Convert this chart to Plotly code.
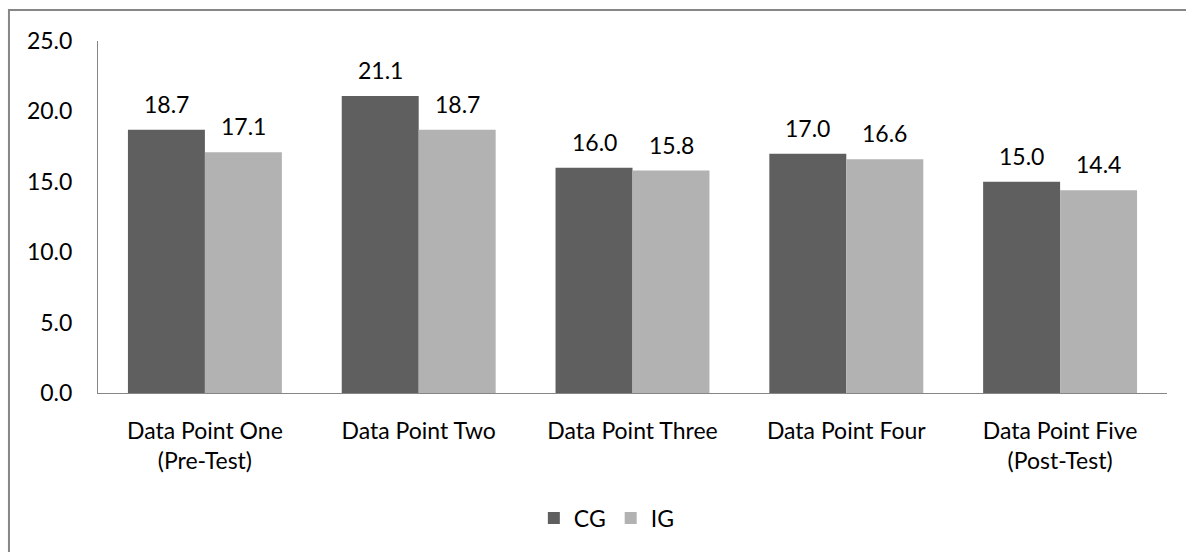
import plotly.graph_objects as go

categories = ["Data Point One<br>(Pre-Test)", "Data Point Two", "Data Point Three", "Data Point Four", "Data Point Five<br>(Post-Test)"]
cg_values = [18.7, 21.1, 16.0, 17.0, 15.0]
ig_values = [17.1, 18.7, 15.8, 16.6, 14.4]
y_ticks = [0, 5, 10, 15, 20, 25]

FONT = "Lato"
FS = 23
DARK = "#5f5f5f"
LIGHT = "#b2b2b2"
AXIS = "#868686"

fig = go.Figure()
fig.add_trace(go.Bar(name="CG", x=categories, y=cg_values, marker=dict(color=DARK, line=dict(width=0))))
fig.add_trace(go.Bar(name="IG", x=categories, y=ig_values, marker=dict(color=LIGHT, line=dict(width=0))))

bar_half = 38.5
annotations = []
for c, v in zip(categories, cg_values):
    annotations.append(dict(x=c, y=v, xref="x", yref="y", text=f"{v:.1f}", showarrow=False,
                            xshift=-bar_half, yshift=26, yanchor="middle",
                            font=dict(family=FONT, size=FS, color="#000")))
for c, v in zip(categories, ig_values):
    annotations.append(dict(x=c, y=v, xref="x", yref="y", text=f"{v:.1f}", showarrow=False,
                            xshift=bar_half, yshift=26, yanchor="middle",
                            font=dict(family=FONT, size=FS, color="#000")))

fig.update_layout(
    width=1186, height=552,
    margin=dict(l=98, r=19, t=41, b=159),
    paper_bgcolor="white", plot_bgcolor="white",
    barmode="group", bargap=0.28, bargroupgap=0,
    font=dict(family=FONT, size=FS, color="#000"),
    showlegend=True,
    legend=dict(orientation="h", x=0.476, xanchor="center", y=-0.355, yanchor="middle",
                font=dict(family=FONT, size=FS, color="#000"), itemwidth=30,
                traceorder="normal"),
    annotations=annotations,
    shapes=[dict(type="rect", xref="paper", yref="paper", x0=-0.0833, x1=1.2, y0=-0.7, y1=1.088,
                 line=dict(color=AXIS, width=2), fillcolor="rgba(0,0,0,0)", layer="below")],
)
fig.update_yaxes(range=[0, 25], tickvals=y_ticks, tickformat=".1f", showgrid=False,
                 showline=True, linecolor=AXIS, linewidth=1, ticks="", ticklabelstandoff=20,
                 zeroline=False, tickfont=dict(family=FONT, size=FS, color="#000"))
fig.update_xaxes(showline=True, linecolor=AXIS, linewidth=1, ticks="", showgrid=False,
                 ticklabelstandoff=17, tickfont=dict(family=FONT, size=FS, color="#000"))

fig.write_html("out.html", post_script="document.body.style.margin='0';",
               config={"displayModeBar": False})
